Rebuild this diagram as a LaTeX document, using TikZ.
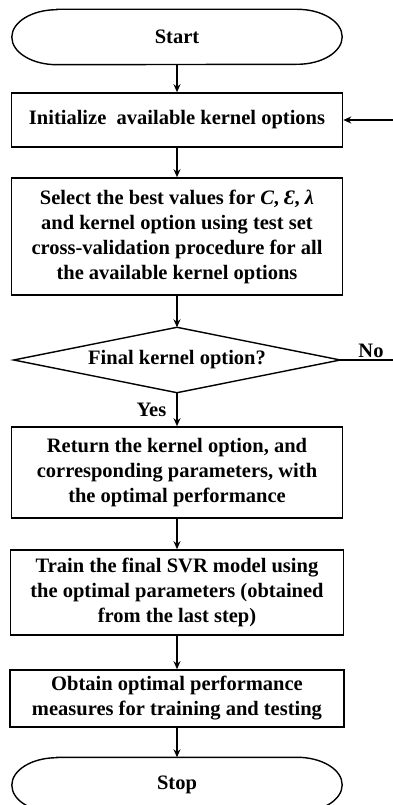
\documentclass[tikz,border=0pt]{standalone}
\usepackage{fontspec}
\setmainfont{Liberation Serif}
\usetikzlibrary{arrows.meta,calc}
\begin{document}
\begin{tikzpicture}[x=1pt,y=-1pt,
  txt/.style={font=\bfseries\fontsize{20.5}{25}\selectfont,align=center,inner sep=0pt},
  box/.style={txt,draw,line width=1.6pt,minimum width=331pt},
  hidden/.style={txt,minimum width=330pt},
  link/.style={line width=1.4pt,-{Stealth[length=8pt,width=7pt]}},
  plain/.style={line width=1.4pt}]
\useasboundingbox (0,0) rectangle (392,805);
\fill[white] (0,0) rectangle (392,805);

\node[hidden,minimum height=55pt] (start) at (177,37) {Start};
\draw[line width=1.4pt] ([xshift=45pt]start.north west) -- ([xshift=-45pt]start.north east)
  arc[start angle=90,end angle=-90,x radius=45pt,y radius=27.5pt]
  -- ([xshift=45pt]start.south west)
  arc[start angle=270,end angle=90,x radius=45pt,y radius=27.5pt] -- cycle;

\node[box,minimum height=54pt] (init) at (177,120) {Initialize\ \ available kernel options};

\node[box,minimum height=117pt] (select) at (177,236.5)
  {Select the best values for \textit{C}, \textit{Ɛ}, \textit{λ}\\
   and kernel option using test set\\
   cross-validation procedure for all\\
   the available kernel options};

\node[hidden,minimum width=326pt,minimum height=65pt] (final) at (177,360) {Final\ kernel option?};
\draw[line width=1.4pt] (final.north) -- (final.east) -- (final.south) -- (final.west) -- cycle;

\node[box,minimum height=91pt] (ret) at (177,472.5)
  {Return the kernel option, and\\
   corresponding\ parameters, with\\
   the optimal\ performance};

\node[box,minimum width=333pt,minimum height=85pt] (train) at (177,592.5)
  {Train\ the final SVR model using\\
   the optimal\ parameters (obtained\\
   from\ the last step)};

\node[box,minimum width=334pt,minimum height=57pt] (meas) at (177,698.5)
  {Obtain\ optimal\ performance\\
   measures for training\ and\ testing};

\node[hidden,minimum height=55pt] (stop) at (177,785) {Stop};
\draw[line width=1.4pt] ([xshift=45pt]stop.north west) -- ([xshift=-45pt]stop.north east)
  arc[start angle=90,end angle=-90,x radius=45pt,y radius=27.5pt]
  -- ([xshift=45pt]stop.south west)
  arc[start angle=270,end angle=90,x radius=45pt,y radius=27.5pt] -- cycle;

\coordinate (rb) at (396,360);
\coordinate (rt) at (396,120);

\draw[link] (start.south) -- (init.north);
\draw[link] (init.south) -- (select.north);
\draw[link] (select.south) -- (final.north);
\draw[link] (final.south) -- node[txt,left=10pt] {Yes} (ret.north);
\draw[link] (ret.south) -- (train.north);
\draw[link] (train.south) -- (meas.north);
\draw[link] (meas.south) -- (stop.north);
\draw[plain] (final.east) -- (rb);
\draw[link] (rb) -- (rt) -- (init.east);
\node[txt] (no) at (371,351) {No};
\end{tikzpicture}
\end{document}
